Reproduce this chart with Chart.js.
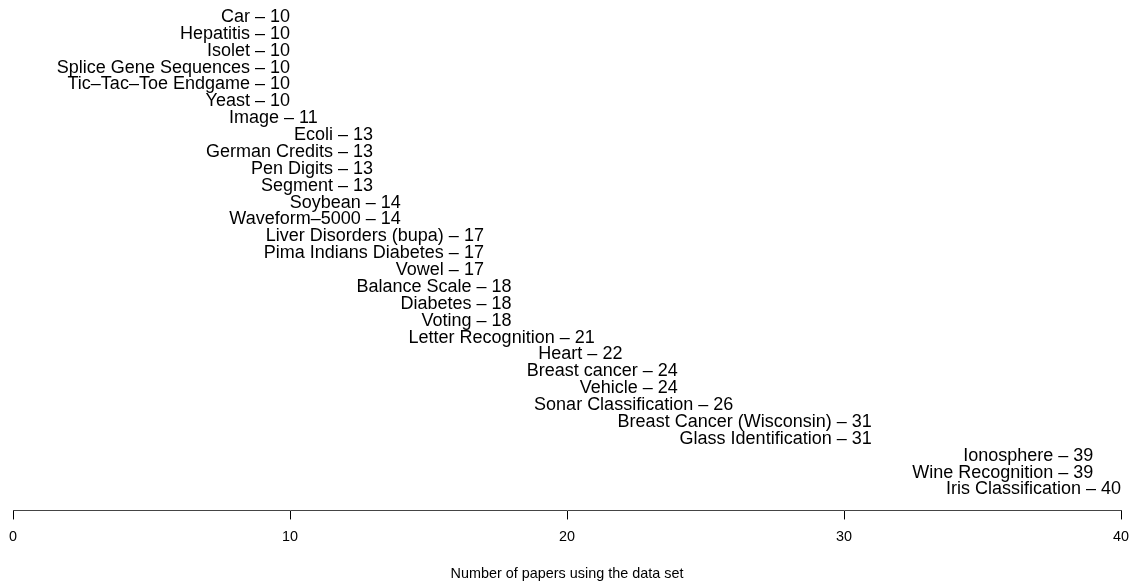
<!DOCTYPE html>
<html>
<head>
<meta charset="utf-8">
<script src="https://cdn.jsdelivr.net/npm/chart.js@4/dist/chart.umd.min.js"></script>
<style>
  html, body { margin: 0; padding: 0; background: #fff; }
  #wrap { width: 1134px; height: 583px; }
</style>
</head>
<body>
<div id="wrap"><canvas id="myChart"></canvas></div>
<script>
// data sets, top to bottom
const dataSets = [
  "Car", "Hepatitis", "Isolet", "Splice Gene Sequences", "Tic\u2013Tac\u2013Toe Endgame",
  "Yeast", "Image", "Ecoli", "German Credits", "Pen Digits", "Segment", "Soybean",
  "Waveform\u20135000", "Liver Disorders (bupa)", "Pima Indians Diabetes", "Vowel",
  "Balance Scale", "Diabetes", "Voting", "Letter Recognition", "Heart", "Breast cancer",
  "Vehicle", "Sonar Classification", "Breast Cancer (Wisconsin)", "Glass Identification",
  "Ionosphere", "Wine Recognition", "Iris Classification"
];
// number of papers using each one
const paperCounts = [
  10, 10, 10, 10, 10, 10, 11, 13, 13, 13, 13, 14, 14, 17, 17, 17,
  18, 18, 18, 21, 22, 24, 24, 26, 31, 31, 39, 39, 40
];
const xTicks = [0, 10, 20, 30, 40];

const FONT = "'Liberation Sans', Arial, Helvetica, sans-serif";

const points = paperCounts.map((v, i) => ({ x: v, y: i }));

// write "Name – count" so the text ends at the count
const labelPlugin = {
  id: "labelPlugin",
  afterDatasetsDraw(chart) {
    const ctx = chart.ctx;
    const meta = chart.getDatasetMeta(0);
    ctx.save();
    ctx.font = "18px " + FONT;
    ctx.fillStyle = "#000";
    ctx.textAlign = "right";
    ctx.textBaseline = "alphabetic";
    meta.data.forEach((pt, i) => {
      ctx.fillText(dataSets[i] + " \u2013 " + paperCounts[i], pt.x, pt.y);
    });
    ctx.restore();
  }
};

new Chart(document.getElementById("myChart"), {
  type: "scatter",
  data: {
    datasets: [{
      data: points,
      pointRadius: 0,
      pointHoverRadius: 0
    }]
  },
  options: {
    responsive: true,
    maintainAspectRatio: false,
    animation: false,
    events: [],
    layout: { padding: { left: 13, right: 13, top: 0, bottom: 0 } },
    plugins: {
      legend: { display: false },
      tooltip: { enabled: false }
    },
    scales: {
      x: {
        type: "linear",
        min: 0,
        max: 40,
        afterBuildTicks: (axis) => { axis.ticks = xTicks.map(v => ({ value: v })); },
        afterFit: (axis) => { axis.paddingLeft = 0; axis.paddingRight = 0; },
        grid: {
          drawOnChartArea: false,
          drawTicks: true,
          tickLength: 9,
          color: "#000"
        },
        border: { display: true, color: "#444", width: 1 },
        ticks: {
          color: "#000",
          padding: 9,
          maxRotation: 0,
          font: { family: FONT, size: 14.4 }
        },
        title: {
          display: true,
          text: "Number of papers using the data set",
          color: "#000",
          font: { family: FONT, size: 14.4 },
          padding: { top: 11, bottom: 0 }
        }
      },
      y: {
        type: "linear",
        display: false,
        reverse: true,
        min: -1.3,
        max: 28.95
      }
    }
  },
  plugins: [labelPlugin]
});
</script>
</body>
</html>
